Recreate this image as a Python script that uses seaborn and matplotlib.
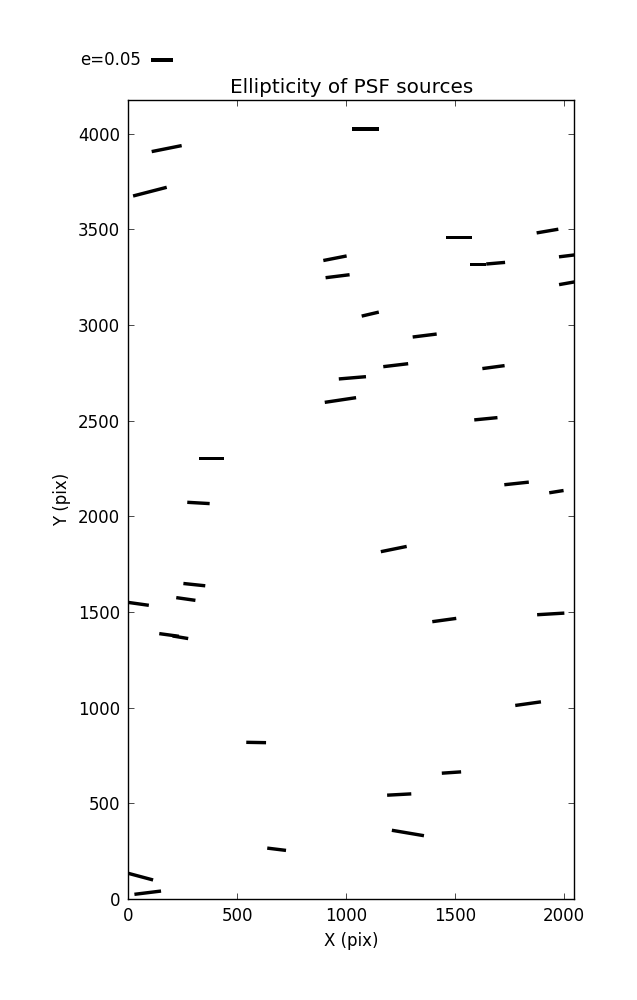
import numpy as np
import matplotlib
matplotlib.use("Agg")
import matplotlib.pyplot as plt
import seaborn as sns

# posiciones de las fuentes PSF (pix) y su elipticidad / angulo (grados)
x_pos = [176, 99, 949, 961, 1088, 1517, 1925, 1606, 1687, 2033, 2033, 1111,
         383, 322, 1361, 1228, 1029, 974, 1677, 1642, 1783, 1966,
         44, 303, 264, 187, 239, 1219, 1451, 1940, 1836,
         587, 681, 56, 89, 1484, 1244, 1284]
y_pos = [3922, 3697, 3349, 3255, 4025, 3456, 3491, 3316, 3323, 3364, 3222, 3057,
         2302, 2070, 2945, 2790, 2724, 2608, 2780, 2510, 2172, 2129,
         1543, 1643, 1568, 1380, 1368, 1829, 1458, 1490, 1021,
         818, 260, 117, 33, 661, 546, 345]
ellip = [0.0695, 0.079, 0.054, 0.055, 0.062, 0.059, 0.050, 0.038, 0.043, 0.055, 0.055, 0.040,
         0.0575, 0.051, 0.055, 0.057, 0.062, 0.072, 0.051, 0.053, 0.056, 0.033,
         0.050, 0.050, 0.044, 0.045, 0.036, 0.060, 0.055, 0.062, 0.059,
         0.045, 0.043, 0.059, 0.061, 0.044, 0.055, 0.074]
angulo = [11.3, 14.5, 11.1, 7.1, 0.0, 0.0, 9.7, 0.0, 4.9, 7.0, 10.0, 13.2,
          0.0, -3.3, 7.1, 6.8, 4.8, 8.5, 7.6, 5.6, 6.1, 9.1,
          -8.0, -6.0, -8.1, -7.8, -9.5, 11.5, 7.8, 3.4, 8.0,
          -1.0, -7.0, -15.0, 7.0, 3.9, 3.1, -9.6]

e_key = 0.05
x_max, y_max = 2048, 4176

sns.set_theme(style="ticks", rc={
    'font.size': 12,
    'axes.labelsize': 12,
    'axes.titlesize': 14.4,
    'axes.titlepad': 5,
    'axes.labelpad': 5,
    'axes.edgecolor': 'black',
    'axes.linewidth': 1.0,
    'xtick.labelsize': 12,
    'ytick.labelsize': 12,
    'xtick.direction': 'in',
    'ytick.direction': 'in',
    'xtick.top': True,
    'ytick.right': True,
    'xtick.major.size': 4,
    'ytick.major.size': 4,
    'xtick.major.width': 0.5,
    'ytick.major.width': 0.5,
    'xtick.major.pad': 6,
    'ytick.major.pad': 6,
    'xtick.color': 'black',
    'ytick.color': 'black',
    'text.color': 'black',
    'axes.labelcolor': 'black',
})
plt.rcParams['font.family'] = ['DejaVu Sans']

fig, ax = plt.subplots(figsize=(6.37, 10), dpi=100)
fig.subplots_adjust(left=0.2015, right=0.9015, bottom=0.101, top=0.9)

ang = np.deg2rad(np.array(angulo))
e = np.array(ellip)
u = e * np.cos(ang)
v = e * np.sin(ang)

# barras sin cabeza, centradas en la fuente
q = ax.quiver(x_pos, y_pos, u, v, color='black', pivot='middle',
              headwidth=0, headlength=0, headaxislength=0,
              units='dots', width=3.4, scale_units='inches', scale=e_key / 0.22)
ax.quiverkey(q, 0.2365, 0.94, e_key, f"e={e_key}", labelpos='W',
             coordinates='figure', fontproperties={'size': 12})

ax.set_xlim(0, x_max)
ax.set_ylim(0, y_max)
ax.set_xticks([0, 500, 1000, 1500, 2000])
ax.set_yticks([0, 500, 1000, 1500, 2000, 2500, 3000, 3500, 4000])
ax.set_xlabel("X (pix)")
ax.set_ylabel("Y (pix)")
ax.set_title("Ellipticity of PSF sources")

fig.savefig("out.png", dpi=100)
plt.close(fig)
